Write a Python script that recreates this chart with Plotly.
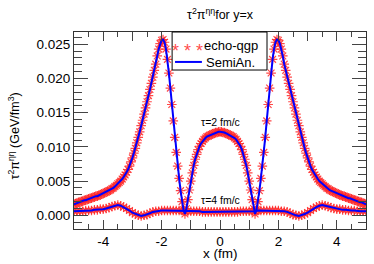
import plotly.graph_objects as go

# tau = 2 fm/c curve, x >= 0 half (symmetric in x)
x_half_t2 = [round(0.05 * i, 2) for i in range(101)]
v_half_t2 = [
    0.0122, 0.0122, 0.0121, 0.0121, 0.0120, 0.0119, 0.0118, 0.0117, 0.0116, 0.0115,
    0.0113, 0.0111, 0.0108, 0.0105, 0.0101, 0.0096, 0.0089, 0.0082, 0.0073, 0.0062,
    0.0050, 0.0037, 0.0023, 0.0010, 0.0002, 0.0008, 0.0020, 0.0036, 0.0054, 0.0072,
    0.0092, 0.0114, 0.0138, 0.0162, 0.0186, 0.0208, 0.0228, 0.0243, 0.0253, 0.0257,
    0.0256, 0.0251, 0.0243, 0.0233, 0.0221, 0.0212, 0.0202, 0.0193, 0.0184, 0.0175,
    0.0166, 0.0157, 0.0148, 0.0139, 0.0131, 0.0122, 0.0114, 0.0106, 0.0098, 0.0091,
    0.0084, 0.0078, 0.0072, 0.0067, 0.0063, 0.0059, 0.0056, 0.0053, 0.0050, 0.0048,
    0.0046, 0.0044, 0.0042, 0.0040, 0.0039, 0.0037, 0.0036, 0.0035, 0.0034, 0.0033,
    0.0032, 0.0031, 0.0030, 0.0029, 0.0028, 0.0028, 0.0027, 0.0026, 0.0025, 0.0025,
    0.0024, 0.0023, 0.0022, 0.0022, 0.0021, 0.0020, 0.0019, 0.0019, 0.0018, 0.0017,
    0.0016,
]

# tau = 4 fm/c curve, x >= 0 half
x_half_t4 = [round(0.1 * i, 1) for i in range(51)]
v_half_t4 = [
    0.0005, 0.0005, 0.0005, 0.0005, 0.0005, 0.0005, 0.0005, 0.0006, 0.0006, 0.0006,
    0.0006, 0.0006, 0.0006, 0.0007, 0.0007, 0.0007, 0.0007, 0.0007, 0.0007, 0.0007,
    0.0007, 0.0006, 0.0006, 0.0005, 0.0003, 0.0001, 0.0000, -0.0001, 0.0000, 0.0002,
    0.0004, 0.0007, 0.0010, 0.0012, 0.0014, 0.0015, 0.0014, 0.0013, 0.0011, 0.0010,
    0.0009, 0.0009, 0.0008, 0.0008, 0.0007, 0.0007, 0.0007, 0.0006, 0.0006, 0.0006,
    0.0006,
]

series_names = ["echo-qgp", "SemiAn."]

def mirror(xs, vs):
    xx = [-x for x in xs[:0:-1]] + list(xs)
    vv = list(vs[:0:-1]) + list(vs)
    return xx, vv

x_t2, y_t2 = mirror(x_half_t2, v_half_t2)
x_t4, y_t4 = mirror(x_half_t4, v_half_t4)

x_tickvals = [-4, -3, -2, -1, 0, 1, 2, 3, 4]
x_ticktext = ["-4", "", "-2", "", "0", "", "2", "", "4"]
y_tickvals = [0.000, 0.005, 0.010, 0.015, 0.020, 0.025]
y_ticktext = ["0.000", "0.005", "0.010", "0.015", "0.020", "0.025"]

FONT = "Liberation Sans, Arial, sans-serif"
RED = "rgb(255,40,40)"
BLUE = "rgb(0,0,255)"

fig = go.Figure()
star = dict(symbol="asterisk-open", size=8, color=RED, opacity=0.85,
            line=dict(color=RED, width=1.2))
for xs, ys in ((x_t2, y_t2), (x_t4, y_t4)):
    fig.add_trace(go.Scatter(x=xs, y=ys, mode="markers", marker=star,
                             name=series_names[0], showlegend=False))
for xs, ys in ((x_t2, y_t2), (x_t4, y_t4)):
    fig.add_trace(go.Scatter(x=xs, y=ys, mode="lines", line=dict(color=BLUE, width=2),
                             name=series_names[1], showlegend=False))

axis_common = dict(showline=True, linecolor="#333", linewidth=1, mirror="allticks",
                   ticks="inside", tickcolor="#444", showgrid=False, zeroline=False,
                   automargin=False,
                   tickfont=dict(family=FONT, size=13.5, color="black"))

fig.update_xaxes(range=[-5, 5], tickvals=x_tickvals, ticktext=x_ticktext, ticklen=9,
                 minor=dict(dtick=0.5, tick0=0, ticks="inside", ticklen=5, tickcolor="#444"),
                 **axis_common)
fig.update_yaxes(range=[-0.002, 0.0268], tickvals=y_tickvals, ticktext=y_ticktext, ticklen=14,
                 minor=dict(dtick=0.001, tick0=0, ticks="inside", ticklen=8, tickcolor="#444"),
                 **axis_common)

# hand-drawn legend box (gnuplot style)
shapes = [
    dict(type="rect", xref="paper", yref="paper", x0=0.336, x1=0.661, y0=0.807, y1=1.0,
         line=dict(color="black", width=1), fillcolor="white", layer="above"),
    dict(type="line", xref="paper", yref="paper", x0=0.346, x1=0.438, y0=0.848, y1=0.848,
         line=dict(color=BLUE, width=2), layer="above"),
]

fig.update_layout(
    width=374, height=264,
    margin=dict(l=74, r=8, t=32, b=35, autoexpand=False),
    paper_bgcolor="white", plot_bgcolor="white",
    showlegend=False,
    shapes=shapes,
    annotations=[
        dict(text="τ<sup>2</sup>π<sup>ηη</sup>for y=x", xref="paper", yref="paper",
             x=0.5, y=1.0, yshift=18, xanchor="center", yanchor="middle", showarrow=False,
             font=dict(family=FONT, size=12.5, color="black")),
        dict(text="τ<sup>2</sup>π<sup>ηη</sup> (GeV/fm<sup>3</sup>)", xref="paper", yref="paper",
             x=-0.205, y=0.47, xanchor="center", yanchor="middle", textangle=-90,
             showarrow=False, font=dict(family=FONT, size=12.5, color="black")),
        dict(text="x (fm)", xref="paper", yref="paper", x=0.5, y=-0.122,
             xanchor="center", yanchor="middle", showarrow=False,
             font=dict(family=FONT, size=13.5, color="black")),
        dict(text="τ=2 fm/c", x=0, y=0.0136, xanchor="center", yanchor="middle",
             showarrow=False, font=dict(family=FONT, size=10.5, color="black")),
        dict(text="τ=4 fm/c", x=0, y=0.0022, xanchor="center", yanchor="middle",
             showarrow=False, font=dict(family=FONT, size=10.5, color="black")),
        dict(text="* * *", xref="paper", yref="paper", x=0.390, y=0.905,
             xanchor="center", yanchor="middle", showarrow=False,
             font=dict(family=FONT, size=18, color="rgba(255,40,40,0.85)")),
        dict(text=series_names[0], xref="paper", yref="paper", x=0.440, y=0.929,
             xanchor="left", yanchor="middle", showarrow=False,
             font=dict(family=FONT, size=13, color="black")),
        dict(text=series_names[1], xref="paper", yref="paper", x=0.446, y=0.843,
             xanchor="left", yanchor="middle", showarrow=False,
             font=dict(family=FONT, size=13, color="black")),
    ],
)

fig.write_html("out.html", config={"displayModeBar": False},
               post_script="document.body.style.margin='0';")
